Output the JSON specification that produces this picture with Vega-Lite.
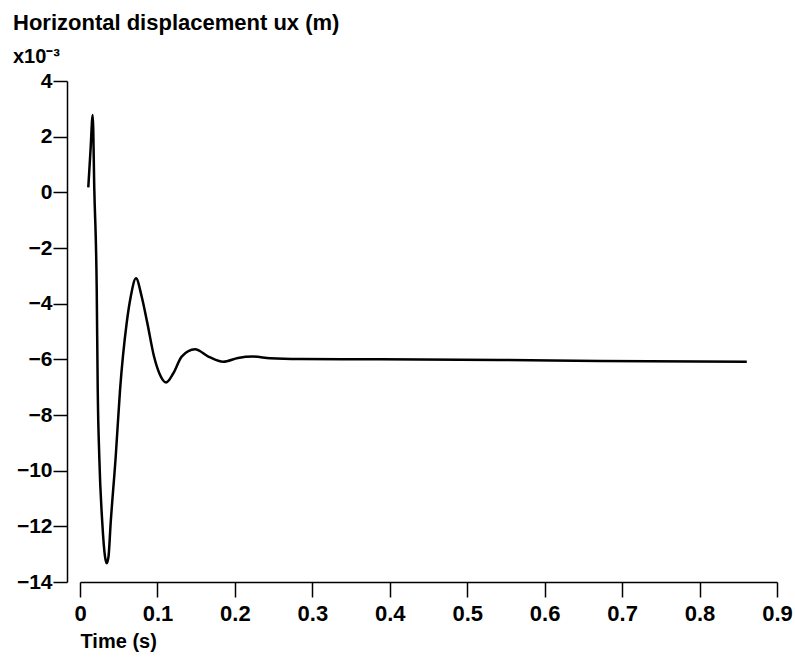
{
  "$schema": "https://vega.github.io/schema/vega-lite/v6.json",
  "autosize": "none",
  "width": 697,
  "height": 501,
  "padding": {"left": 80, "top": 81, "right": 18, "bottom": 77},
  "background": "white",
  "title": {
    "text": "Horizontal displacement ux (m)",
    "subtitle": "x10⁻³",
    "anchor": "start",
    "frame": "group",
    "dx": -67,
    "offset": 2,
    "font": "Liberation Sans",
    "fontSize": 22,
    "fontWeight": "bold",
    "color": "black",
    "subtitleFont": "Liberation Sans",
    "subtitleFontSize": 20,
    "subtitleFontWeight": "bold",
    "subtitleColor": "black",
    "subtitlePadding": 12
  },
  "config": {
    "view": {"stroke": null},
    "axis": {
      "grid": false,
      "domainColor": "black",
      "tickColor": "black",
      "labelColor": "black",
      "titleColor": "black",
      "labelFont": "Liberation Sans",
      "titleFont": "Liberation Sans",
      "labelFontWeight": "bold",
      "domainWidth": 1.5,
      "tickWidth": 1.5
    }
  },
  "data": {
    "values": [
      {"t": 0.0107, "ux": 0.18},
      {"t": 0.0136, "ux": 1.52},
      {"t": 0.0164, "ux": 2.78},
      {"t": 0.0185, "ux": 0.08},
      {"t": 0.0216, "ux": -3.51},
      {"t": 0.0229, "ux": -7.1},
      {"t": 0.0249, "ux": -9.5},
      {"t": 0.0288, "ux": -11.88},
      {"t": 0.0323, "ux": -13.09},
      {"t": 0.0345, "ux": -13.33},
      {"t": 0.0368, "ux": -13.09},
      {"t": 0.0396, "ux": -11.88},
      {"t": 0.0461, "ux": -9.5},
      {"t": 0.0517, "ux": -7.1},
      {"t": 0.0603, "ux": -4.69},
      {"t": 0.0655, "ux": -3.75},
      {"t": 0.0723, "ux": -3.09},
      {"t": 0.0797, "ux": -3.75},
      {"t": 0.0869, "ux": -4.69},
      {"t": 0.0956, "ux": -5.9},
      {"t": 0.1024, "ux": -6.5},
      {"t": 0.1111, "ux": -6.83},
      {"t": 0.1205, "ux": -6.5},
      {"t": 0.1313, "ux": -5.9},
      {"t": 0.1485, "ux": -5.64},
      {"t": 0.1657, "ux": -5.9},
      {"t": 0.185, "ux": -6.09},
      {"t": 0.204, "ux": -5.95},
      {"t": 0.2234, "ux": -5.9},
      {"t": 0.2453, "ux": -5.96},
      {"t": 0.284, "ux": -5.99},
      {"t": 0.3874, "ux": -6.0},
      {"t": 0.542, "ux": -6.02},
      {"t": 0.6715, "ux": -6.06},
      {"t": 0.861, "ux": -6.09}
    ]
  },
  "mark": {"type": "line", "color": "black", "strokeWidth": 2.5, "interpolate": "monotone"},
  "encoding": {
    "x": {
      "field": "t",
      "type": "quantitative",
      "scale": {"domain": [0, 0.9], "nice": false, "zero": false},
      "axis": {
        "values": [0, 0.1, 0.2, 0.3, 0.4, 0.5, 0.6, 0.7, 0.8, 0.9],
        "format": ".1~f",
        "tickSize": 15,
        "labelPadding": 6,
        "labelFontSize": 22,
        "labelFlush": false,
        "title": "Time (s)",
        "titleFontSize": 20,
        "titleFontWeight": "bold",
        "titleAnchor": "start",
        "titleAlign": "left",
        "titleBaseline": "top",
        "titleX": 0,
        "titleY": 49
      }
    },
    "y": {
      "field": "ux",
      "type": "quantitative",
      "scale": {"domain": [-14, 4], "nice": false, "zero": false},
      "axis": {
        "values": [-14, -12, -10, -8, -6, -4, -2, 0, 2, 4],
        "offset": 13,
        "tickSize": 14,
        "labelPadding": 1,
        "labelFontSize": 21,
        "labelFlush": false,
        "title": null
      }
    }
  }
}
